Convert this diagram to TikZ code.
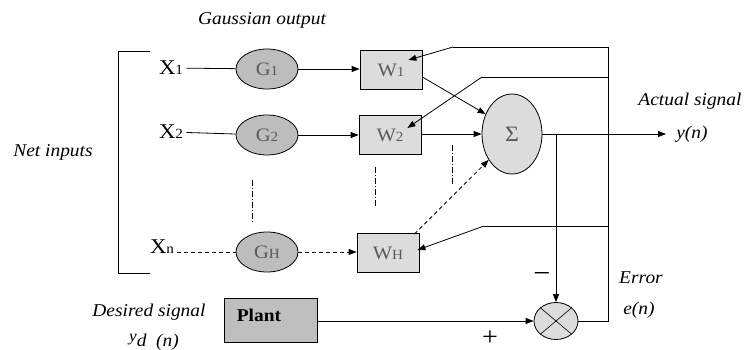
\documentclass[tikz,border=0pt]{standalone}
\usepackage{fontspec}
\setmainfont{Liberation Serif}[FakeStretch=1.08]
\usetikzlibrary{shapes.geometric,arrows.meta}
\definecolor{gfill}{HTML}{BDBDBD}
\definecolor{wfill}{HTML}{DCDCDC}
\definecolor{pfill}{HTML}{BFBFBF}
\definecolor{intext}{HTML}{5A5A5A}
\newcommand{\lab}[2]{#1{\fontsize{14}{14}\selectfont #2}}
\begin{document}
\begin{tikzpicture}[x=1pt,y=-1pt,line width=0.8pt,
  gnode/.style={ellipse,draw,fill=gfill,minimum width=62pt,minimum height=40pt,inner sep=0pt,text=intext,font=\fontsize{19}{19}\selectfont},
  wnode/.style={rectangle,draw,fill=wfill,minimum width=62pt,minimum height=39pt,inner sep=0pt,text=intext,font=\fontsize{19}{19}\selectfont},
  xlabel/.style={inner sep=3pt,font=\fontsize{21}{21}\selectfont},
  itlabel/.style={inner sep=0pt,font=\fontsize{18}{18}\selectfont\itshape},
  arr/.style={-{Triangle[length=8pt,width=6pt]}},
  ddot/.style={line width=0.6pt,dash pattern=on 6pt off 2pt on 1pt off 2pt},
  dsh/.style={dash pattern=on 4pt off 3pt}]
\useasboundingbox (0,0) rectangle (745,350);

% labels
\node[itlabel] (gout) at (262,20) {Gaussian output};
\node[itlabel] (net) at (53,152) {Net inputs};
\node[itlabel] (act) at (690,101) {Actual signal};
\node[itlabel] (yn) at (692,134) {y(n)};
\node[itlabel] (err) at (641,278) {Error};
\node[itlabel] (en) at (639,310) {e(n)};
\node[itlabel] (des) at (149,312) {Desired signal};
\node[itlabel,anchor=base] (yd) at (154,346) {{\fontsize{16}{16}\selectfont\raisebox{5pt}{y}}d\ \ (n)};
\node[inner sep=0pt,font=\fontsize{26}{26}\selectfont] (plus) at (490,338) {+};
\node[inner sep=0pt,font=\fontsize{28}{28}\selectfont] (minus) at (542,278) {−};

% inputs
\node[xlabel] (x1) at (171,68) {\lab{X}{1}};
\node[xlabel] (x2) at (171,132) {\lab{X}{2}};
\node[xlabel] (xn) at (162,247) {\lab{X}{n}};

% bracket
\coordinate (bt) at (150,51);
\coordinate (bb) at (150,273);
\draw (bt) -- (118,51) -- (118,273) -- (bb);

% gaussian nodes
\node[gnode] (g1) at (267,69) {\lab{G}{1}};
\node[gnode] (g2) at (267,135) {\lab{G}{2}};
\node[gnode] (gh) at (267,252) {\lab{G}{H}};

% weight nodes
\node[wnode] (w1) at (391,70) {\lab{W}{1}};
\node[wnode] (w2) at (390,135) {\lab{W}{2}};
\node[wnode] (wh) at (388,253) {\lab{W}{H}};

% sum and multiplier
\node[ellipse,draw,fill=wfill,minimum width=60pt,minimum height=80pt,inner sep=0pt,text=intext,font=\fontsize{22}{22}\selectfont] (s) at (512,134) {Σ};
\node[ellipse,draw,fill=wfill,minimum width=44pt,minimum height=37pt,inner sep=0pt] (m) at (556,321) {};
\draw[line width=0.6pt] (m.north west) -- (m.south east) (m.north east) -- (m.south west);

% plant
\node[rectangle,draw,fill=pfill,minimum width=93pt,minimum height=44pt,inner sep=0pt] (plant) at (271,320) {};
\node[inner sep=0pt,font=\fontsize{18}{18}\selectfont\bfseries] (plt) at (259,315) {Plant};

% forward connectors
\draw (x1) -- (g1);
\draw[arr] (g1) -- (w1.west |- g1);
\draw (x2) -- (g2);
\draw[arr] (g2) -- (w2.west |- g2);
\draw[dsh] (xn.east |- gh) -- (gh);
\draw[dsh,arr] (gh) -- (wh.west |- gh);

\draw[arr] ([yshift=-7pt]w1.east) -- (s.143);
\draw[arr] (w2.east |- s.west) -- (s.west);
\draw[dsh,arr] ([xshift=-5pt,yshift=-1pt]wh.north east) -- (s.228);

% dash-dot continuation marks
\coordinate (dg1) at (252,180); \coordinate (dg2) at (252,222);
\coordinate (dw1) at (375,167); \coordinate (dw2) at (375,207);
\coordinate (ds1) at (452,145); \coordinate (ds2) at (452,185);
\draw[ddot] (dg1) -- (dg2);
\draw[ddot] (dw1) -- (dw2);
\draw[ddot] (ds1) -- (ds2);

% output
\coordinate (out) at (666,134);
\draw[arr] (s.east) -- (out);
\draw[arr] (s.east -| m.north) -- (m.north);

% plant to multiplier
\draw[arr] (plant.east |- m.west) -- (m.west);

% feedback
\coordinate (t1) at ([xshift=-14pt,yshift=10pt]w1.east);
\coordinate (t2) at ([xshift=-14pt,yshift=7pt]w2.east);
\coordinate (th) at ([xshift=-2pt,yshift=3pt]wh.east);
\coordinate (rtop) at (608,47);
\draw (m.east) -| (rtop) -- (453,47) coordinate (k1);
\draw[arr] (k1) -- (t1);
\draw (608,77) -- (482,77) coordinate (k2);
\draw[arr] (k2) -- (t2);
\draw (608,226) -- (484,226) coordinate (k3);
\draw[arr] (k3) -- (th);
\end{tikzpicture}
\end{document}
